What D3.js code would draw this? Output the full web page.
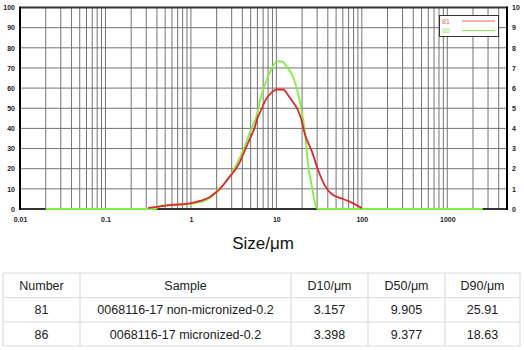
<!DOCTYPE html>
<html><head><meta charset="utf-8">
<script src="https://cdn.jsdelivr.net/npm/d3@7"></script>
<style>
html,body{margin:0;padding:0;background:#fff;}
svg{display:block;font-family:Arial,"Liberation Sans",sans-serif;}
</style></head>
<body><svg id="c" width="524" height="350"></svg>
<script>
// ---- data ----
const xTickValues = [0.01, 0.1, 1, 10, 100, 1000];
const xTickLabels = ["0.01", "0.1", "1", "10", "100", "1000"];
const yLeftTicks = [0,10,20,30,40,50,60,70,80,90,100];
const yRightLabels = ["0","1","2","3","4","5","6","7","8","9","10"];

const seriesNames = ["81", "86"];
const redSizes  = [0.315,0.43,0.57,0.98,1.28,1.67,1.91,2.19,2.72,3.76,4.07,4.92,5.63,5.94,6.79,7.36,8.89,10.2,12.0,13.7,15.7,17.9,19.4,21.6,26.1,30.7,37.1,44.7,55.6,69.0,78.9,100.5];
const redValues = [0.5,1.2,1.9,2.8,4,6,7.8,10,15,23.5,27,35,41,44.5,50,53.5,58,59.3,59.3,56.5,53,49,45,37,28.5,19.5,11.5,7.3,5.5,4,2.8,0.5];
const greenSizes  = [0.02,0.38,0.43,0.57,0.98,1.67,1.91,2.72,4.07,5.19,5.94,6.44,7.98,10.2,11.6,13.3,15.7,17.9,19.4,21.6,23.4,26.1,28.3,30.7,2600];
const greenValues = [0,0,1.5,2,2.5,5.5,8,15,29,40.7,47,54,65.5,73.3,73.3,70.5,65.5,57.6,50.6,38,23,11,3,0,0];

const tableHeader = ["Number","Sample","D10/μm","D50/μm","D90/μm"];
const tableNumbers = ["81","86"];
const tableSamples = ["0068116-17 non-micronized-0.2","0068116-17 micronized-0.2"];
const tableD10 = ["3.157","3.398"];
const tableD50 = ["9.905","9.377"];
const tableD90 = ["25.91","18.63"];

// ---- layout ----
const svg = d3.select("#c");
const L = 20, R = 507, T = 7.5, B = 209;
const x = d3.scaleLog().domain([0.01, 5000]).range([L, R]);
const y = d3.scaleLinear().domain([0, 100]).range([B, T]);
const yR = d3.scaleLinear().domain([0, 10]).range([B, T]);

// grid
const g = svg.append("g");
const vlines = [];
for (let e = -2; e <= 3; e++) for (let k = 1; k <= 9; k++) {
  const v = k * Math.pow(10, e);
  if (v > 0.01 && v < 5000) vlines.push(v);
}
g.selectAll(".vg").data(vlines).join("line")
  .attr("x1", d => x(d)).attr("x2", d => x(d)).attr("y1", T).attr("y2", B)
  .attr("stroke", "#747474").attr("stroke-width", 1);
g.selectAll(".hg").data(yLeftTicks.filter(d => d > 0 && d < 100)).join("line")
  .attr("x1", L).attr("x2", R).attr("y1", d => y(d)).attr("y2", d => y(d))
  .attr("stroke", "#747474").attr("stroke-width", 1);

// frame
svg.append("line").attr("x1", L).attr("x2", R).attr("y1", T).attr("y2", T).attr("stroke", "#333").attr("stroke-width", 2);
svg.append("line").attr("x1", L).attr("x2", R).attr("y1", B).attr("y2", B).attr("stroke", "#333").attr("stroke-width", 2);
svg.append("line").attr("x1", L).attr("x2", L).attr("y1", T - 1).attr("y2", B + 1).attr("stroke", "#000").attr("stroke-width", 2);
svg.append("line").attr("x1", R).attr("x2", R).attr("y1", T - 1).attr("y2", B + 1).attr("stroke", "#000").attr("stroke-width", 2);

// axes (labels only)
const axL = d3.axisLeft(y).tickValues(yLeftTicks).tickSize(0).tickPadding(5);
const gl = svg.append("g").attr("transform", `translate(${L},0)`).call(axL);
const axR = d3.axisRight(yR).tickValues(d3.range(0, 11)).tickSize(0).tickPadding(5).tickFormat((d, i) => yRightLabels[i]);
const gr = svg.append("g").attr("transform", `translate(${R},0)`).call(axR);
const axB = d3.axisBottom(x).tickValues(xTickValues).tickSize(0).tickPadding(8).tickFormat((d, i) => xTickLabels[i]);
const gb = svg.append("g").attr("transform", `translate(0,${B})`).call(axB);
[gl, gr, gb].forEach(a => {
  a.select(".domain").remove();
  a.selectAll("text").attr("font-size", 7).attr("font-weight", "bold").attr("fill", "#222").attr("font-family", "Arial, sans-serif");
});

// series
const line = d3.line().x(d => x(d[0])).y(d => y(d[1])).curve(d3.curveMonotoneX);
svg.append("path").datum(d3.zip(greenSizes, greenValues)).attr("d", line)
  .attr("fill", "none").attr("stroke", "#7ff23c").attr("stroke-width", 1.8);
svg.append("path").datum(d3.zip(redSizes, redValues)).attr("d", line)
  .attr("fill", "none").attr("stroke", "#e3262a").attr("stroke-width", 1.8);

// legend
const lg = svg.append("g");
lg.append("rect").attr("x", 439.5).attr("y", 15.5).attr("width", 59).attr("height", 21)
  .attr("fill", "#fff").attr("stroke", "#333").attr("stroke-width", 1);
const legColors = ["#f06060", "#90f050"];
seriesNames.forEach((n, i) => {
  const yy = 21 + i * 9.5;
  lg.append("text").attr("x", 442).attr("y", yy + 2.5).text(n)
    .attr("font-size", 7).attr("fill", legColors[i]);
  lg.append("line").attr("x1", 462).attr("x2", 495).attr("y1", yy).attr("y2", yy)
    .attr("stroke", legColors[i]).attr("stroke-width", 1.2);
});

// axis title
svg.append("text").attr("x", 263).attr("y", 249).attr("text-anchor", "middle")
  .attr("font-size", 17).attr("fill", "#111").text("Size/μm");

// table
const colX = [3, 80, 291, 368, 445, 520];
const rowY = [273, 297.5, 322, 346];
const tg = svg.append("g");
rowY.forEach(v => tg.append("line").attr("x1", colX[0]).attr("x2", colX[5]).attr("y1", v).attr("y2", v).attr("stroke", "#dcdcdc").attr("stroke-width", 1.2));
colX.forEach(v => tg.append("line").attr("x1", v).attr("x2", v).attr("y1", rowY[0]).attr("y2", rowY[3]).attr("stroke", "#dcdcdc").attr("stroke-width", 1.2));
const rows = [tableHeader].concat(tableNumbers.map((n, i) => [n, tableSamples[i], tableD10[i], tableD50[i], tableD90[i]]));
rows.forEach((r, ri) => {
  r.forEach((t, ci) => {
    tg.append("text").attr("x", (colX[ci] + colX[ci + 1]) / 2).attr("y", (rowY[ri] + rowY[ri + 1]) / 2 + 4.5)
      .attr("text-anchor", "middle").attr("font-size", 12.5).attr("fill", "#222").text(t);
  });
});
</script></body></html>
